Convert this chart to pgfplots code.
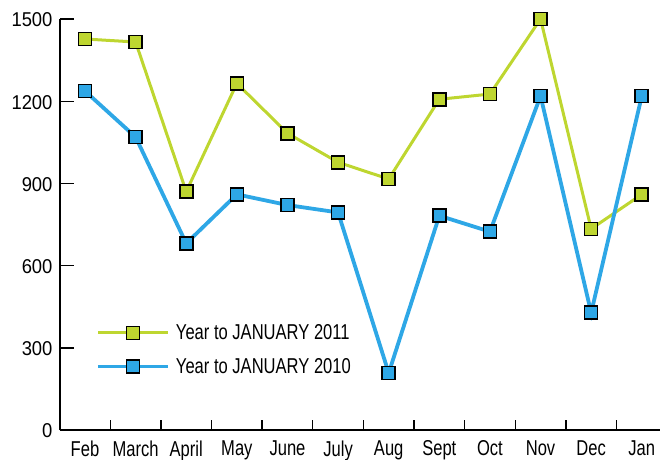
\documentclass[border=0pt]{standalone}
\usepackage{fontspec}
\setmainfont{Liberation Sans}[FakeStretch=0.77]
\newfontfamily\numfont{Liberation Sans}[FakeStretch=0.92]
\usepackage{pgfplots}
\pgfplotsset{compat=1.18}
\definecolor{cgreen}{RGB}{190,214,48}
\definecolor{cblue}{RGB}{46,167,230}
\begin{document}
\begin{tikzpicture}
\useasboundingbox (0,0) rectangle (660pt,459pt);
\begin{axis}[
  at={(60pt,29pt)}, anchor=south west,
  scale only axis, width=600pt, height=411pt,
  xmin=-0.494, xmax=11.36, ymin=0, ymax=1500,
  axis lines=left, axis line style={-, line width=1.6pt, black},
  clip=false,
  xtick={0,...,11},
  xticklabels={Feb,March,April,May,June,July,Aug,Sept,Oct,Nov,Dec,Jan},
  major x tick style={draw=none},
  minor xtick={0.5,1.5,...,10.5},
  minor tick length=10pt,
  minor x tick style={line width=1.4pt, black},
  ytick={0,300,...,1500},
  major tick length=14pt,
  major y tick style={line width=1.4pt, black},
  tick align=inside,
  /pgf/number format/assume math mode=true,
  /pgf/number format/1000 sep={},
  yticklabel style={font=\numfont\fontsize{20}{24}\selectfont, xshift=-4pt, yshift=-1pt},
  xticklabel style={font=\fontsize{21.5}{25}\selectfont, yshift=-7pt},
  legend style={at={(0.055,0.264)}, anchor=north west, draw=none, fill=none,
    font=\fontsize{21.5}{25}\selectfont, row sep=15pt,
    nodes={inner sep=1pt}},
  legend cell align=left,
  legend image code/.code={\draw[mark repeat=2,mark phase=2] plot coordinates {(0pt,0pt) (35pt,0pt) (70pt,0pt)};},
]
\addplot[cgreen, line width=3pt, mark=square*, mark size=6.5pt,
  mark options={fill=cgreen, draw=black, line width=1.6pt}]
  coordinates {(0,1427) (1,1416) (2,870) (3,1265) (4,1083) (5,977) (6,916) (7,1207) (8,1226) (9,1500) (10,734) (11,860)};
\addlegendentry{\hspace{5pt}Year to JANUARY 2011}
\addplot[cblue, line width=3.8pt, mark=square*, mark size=6.5pt,
  mark options={fill=cblue, draw=black, line width=1.6pt}]
  coordinates {(0,1237) (1,1069) (2,681) (3,860) (4,821) (5,794) (6,208) (7,782) (8,724) (9,1219) (10,428) (11,1219)};
\addlegendentry{\hspace{5pt}Year to JANUARY 2010}
\end{axis}
\end{tikzpicture}
\end{document}
